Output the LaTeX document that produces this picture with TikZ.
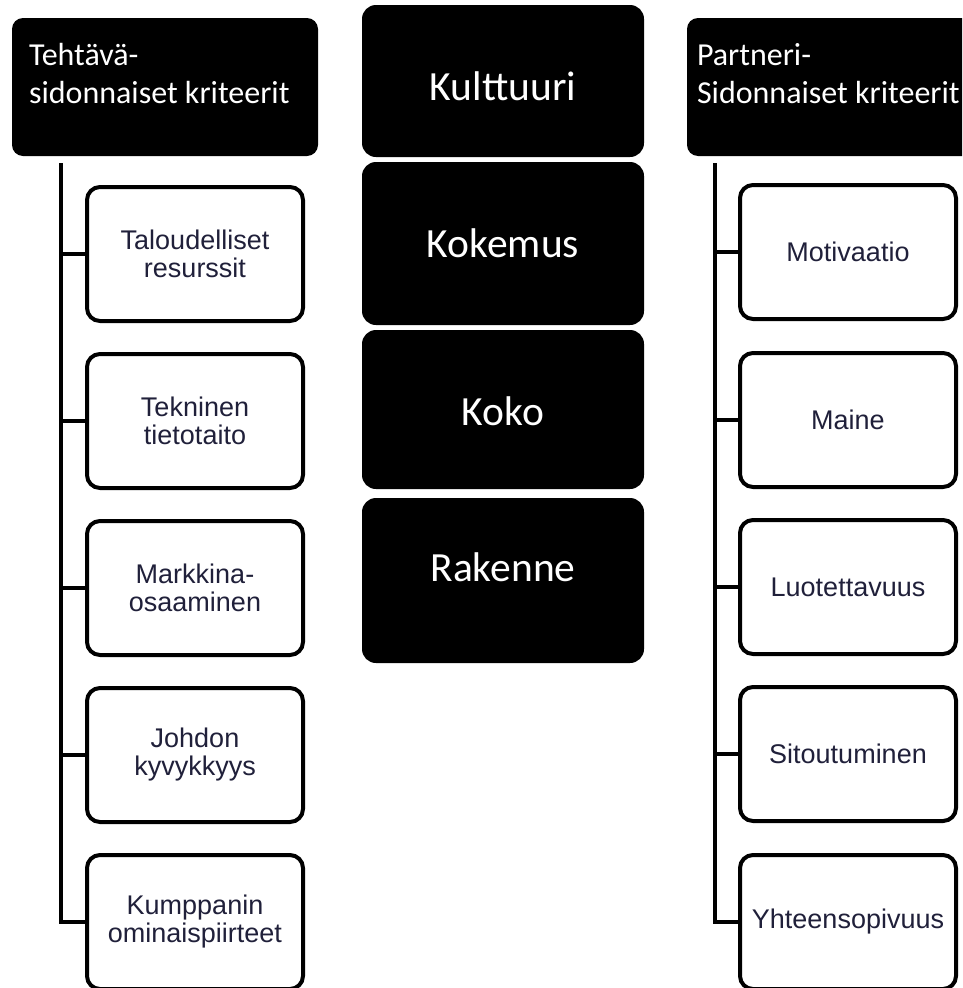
\documentclass[tikz,border=0pt]{standalone}
\usepackage{fontspec}
\setmainfont{Liberation Sans}
\newfontfamily\calib{Carlito}
\definecolor{childtext}{HTML}{20203A}
\begin{document}
\begin{tikzpicture}[x=1pt,y=-1pt,
  hdr/.style={fill=black, draw=none, rounded corners=11pt, minimum width=306pt, minimum height=138pt, inner sep=0pt},
  hdrtxt/.style={text=white, font=\calib\fontsize{32}{38}\selectfont, align=left, inner sep=0pt, anchor=north west},
  mid/.style={fill=black, draw=none, rounded corners=14pt, minimum width=282pt, inner sep=0pt, text=white, font=\calib\fontsize{41.5}{48}\selectfont},
  child/.style={draw=black, line width=4pt, rounded corners=13pt, fill=white, minimum width=216pt, minimum height=134pt, inner sep=0pt, align=center, text=childtext, font=\fontsize{27}{28}\selectfont},
  conn/.style={draw=black, line width=4pt}]
\useasboundingbox (0,0) rectangle (962,988);
\clip (0,0) rectangle (962,988);

% headers
\node[hdr, label={[hdrtxt, xshift=17pt, yshift=-25pt]north west:{Tehtävä-\\sidonnaiset kriteerit}}] (h1) at (165,87) {};
\node[hdr, label={[hdrtxt, xshift=10pt, yshift=-25pt]north west:{Partneri-\\Sidonnaiset kriteerit}}] (h2) at (840,87) {};

% middle column
\node[mid, minimum height=152pt, text height=38pt, text depth=0pt] (m1) at (503,81) {Kulttuuri};
\node[mid, minimum height=163pt, text height=27pt, text depth=0pt] (m2) at (503,243.5) {Kokemus};
\node[mid, minimum height=159pt, text height=31pt, text depth=0pt] (m3) at (503,409.5) {Koko};
\node[mid, minimum height=165pt, text height=14pt, text depth=13pt] (m4) at (503,580.5) {Rakenne};

% left children
\node[child] (l1) at (195,254) {Taloudelliset\\resurssit};
\node[child] (l2) at (195,421) {Tekninen\\tietotaito};
\node[child] (l3) at (195,588) {Markkina-\\osaaminen};
\node[child] (l4) at (195,755) {Johdon\\kyvykkyys};
\node[child] (l5) at (195,922) {Kumppanin\\ominaispiirteet};

% right children
\node[child] (r1) at (848,252) {Motivaatio};
\node[child] (r2) at (848,420) {Maine};
\node[child] (r3) at (848,587) {Luotettavuus};
\node[child] (r4) at (848,754) {Sitoutuminen};
\node[child] (r5) at (848,922) {Yhteensopivuus};

% connectors
\coordinate (ltop) at (61,163);
\coordinate (rtop) at (715,163);
\draw[conn] (ltop) |- (l5.west);
\draw[conn] (rtop) |- (r5.west);
\foreach \i in {1,2,3,4} {
  \draw[conn] (l\i.west) -- (l\i.west -| ltop);
  \draw[conn] (r\i.west) -- (r\i.west -| rtop);
}
\end{tikzpicture}
\end{document}
